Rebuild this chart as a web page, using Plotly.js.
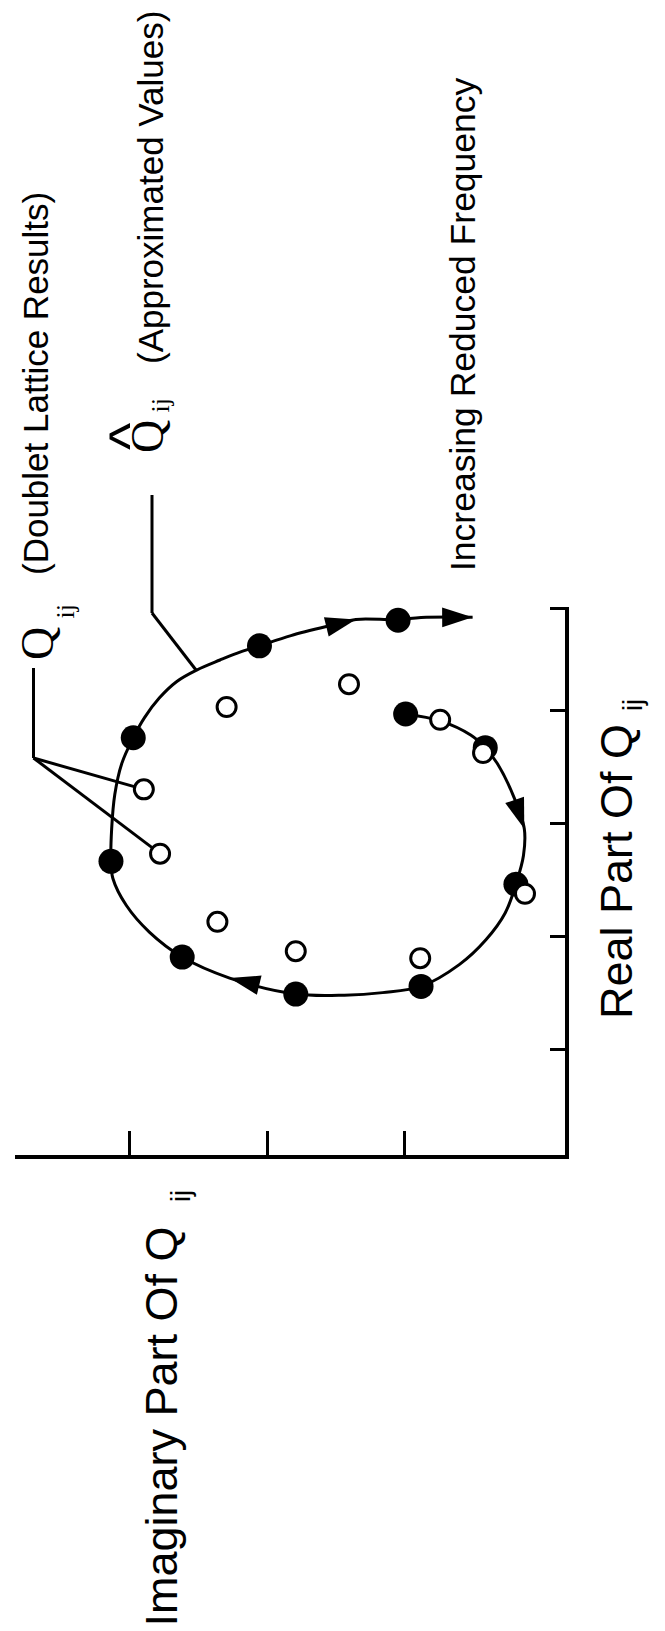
<!DOCTYPE html>
<html><head><meta charset="utf-8">
<script src="https://cdn.plot.ly/plotly-3.0.1.min.js"></script>
<style>html,body{margin:0;padding:0;background:#fff;overflow:hidden;} #chart{width:665px;height:1631px;}</style>
</head><body><div id="chart"></div>
<script>
// Figure is printed rotated: horizontal = Imaginary Part (increasing to the left),
// vertical = Real Part (increasing upward).
const imagTicks = [1, 2, 3, 3.83];
const realTicks = [1, 2, 3, 4, 4.9];

// Doublet Lattice Results Q_ij (open circles), in order of increasing frequency
const dlrImag = [0.744, 0.432, 0.127, 0.889, 1.794, 2.364, 2.781, 2.899, 2.297, 1.407];
const dlrReal = [3.914, 3.620, 2.374, 1.804, 1.866, 2.126, 2.729, 3.298, 4.027, 4.229];

// Approximated values Q^_ij at the same frequencies (filled circles)
const approxImag = [0.995, 0.416, 0.193, 0.883, 1.794, 2.620, 3.138, 2.976, 2.058, 1.050];
const approxReal = [3.965, 3.667, 2.458, 1.554, 1.486, 1.814, 2.661, 3.755, 4.568, 4.795];

// Approximation curve (traced)
const curveImag = [0.995, 0.744, 0.522, 0.416, 0.327, 0.216, 0.132, 0.138, 0.193, 0.271,
                   0.411, 0.605, 0.883, 1.162, 1.440, 1.794, 2.275, 2.620, 2.859, 3.027,
                   3.124, 3.138, 3.133, 3.110, 3.060, 2.976, 2.894, 2.787, 2.659, 2.515,
                   2.345, 2.224, 2.058, 1.829, 1.496, 1.357, 1.050, 0.883, 0.508];
const curveReal = [3.965, 3.904, 3.779, 3.667, 3.525, 3.254, 2.949, 2.712, 2.458, 2.204,
                   1.967, 1.747, 1.554, 1.499, 1.476, 1.486, 1.628, 1.814, 2.035, 2.272,
                   2.509, 2.661, 2.949, 3.254, 3.525, 3.755, 3.933, 4.106, 4.253, 4.354,
                   4.443, 4.502, 4.568, 4.659, 4.761, 4.802, 4.800, 4.819, 4.822];

// Direction arrows along the curve: [from index, tip index]
const arrowFrom = [5, 15, 33, 37];
const arrowTip  = [6, 16, 35, 38];

// ---- layout geometry (pixels) ----
const W = 665, H = 1631;
const M = {l: 15, r: 100, t: 607, b: 476};
const PW = W - M.l - M.r, PH = H - M.t - M.b;
const xRange = [3.836, -0.164];
const yRange = [0.062, 4.912];
const PX = X => (X - M.l) / PW;
const PY = Y => (H - M.b - Y) / PH;
const dataToPx = (im, re) => [
  M.l + PW * (im - xRange[0]) / (xRange[1] - xRange[0]),
  H - M.b - PH * (re - yRange[0]) / (yRange[1] - yRange[0])
];

const traces = [];
traces.push({
  x: curveImag, y: curveReal, type: 'scatter', mode: 'lines',
  line: {color: '#000', width: 3, shape: 'spline', smoothing: 1},
  hoverinfo: 'skip', showlegend: false
});
traces.push({
  x: approxImag, y: approxReal, type: 'scatter', mode: 'markers',
  marker: {symbol: 'circle', size: 25, color: '#000'},
  showlegend: false
});
traces.push({
  x: dlrImag, y: dlrReal, type: 'scatter', mode: 'markers',
  marker: {symbol: 'circle', size: 19, color: '#fff', line: {color: '#000', width: 3}},
  showlegend: false
});
for (let k = 0; k < arrowTip.length; k++) {
  traces.push({
    x: [curveImag[arrowFrom[k]], curveImag[arrowTip[k]]],
    y: [curveReal[arrowFrom[k]], curveReal[arrowTip[k]]],
    type: 'scatter', mode: 'markers',
    marker: {symbol: 'arrow', angleref: 'previous', size: 32, color: '#000', line: {width: 0}},
    showlegend: false
  });
}

// leader lines
const shapes = [];
const seg = (x0, y0, x1, y1) => shapes.push({
  type: 'line', xref: 'paper', yref: 'paper',
  x0: PX(x0), y0: PY(y0), x1: PX(x1), y1: PY(y1),
  line: {color: '#000', width: 3}
});
// Q^ leader -> curve
seg(152, 495, 152, 613);
seg(152, 613, 196, 670);
// Q leader -> two open circles
const jx = 33.5, jy = 758;
seg(jx, 668, jx, jy);
[7, 6].forEach(i => {
  const [cx, cy] = dataToPx(dlrImag[i], dlrReal[i]);
  const dx = cx - jx, dy = cy - jy, d = Math.hypot(dx, dy);
  seg(jx, jy, cx - dx / d * 10, cy - dy / d * 10);
});

const sans = 'Liberation Sans, Arial, sans-serif';
const serif = 'Liberation Serif, Times New Roman, serif';
const ann = (text, left, bottom, size, family) => ({
  text: text, xref: 'paper', yref: 'paper', x: PX(left), y: PY(bottom),
  xanchor: 'left', yanchor: 'bottom', textangle: -90, showarrow: false,
  font: {family: family, size: size, color: '#000'}
});
const annotations = [
  ann('Imaginary Part Of Q', 133, 1629, 45, sans),
  ann('ij', 164, 1204, 27, sans),
  ann('Real Part Of Q', 589, 1021, 45, sans),
  ann('ij', 616, 713, 27, sans),
  ann('(Doublet Lattice Results)', 14, 577, 35, sans),
  ann('(Approximated Values)', 129, 366, 35, sans),
  ann('Increasing Reduced Frequency', 441, 573, 35.5, sans),
  ann('Q', 10, 662, 46, serif),
  ann('ij', 48, 621, 26, serif),
  ann('Q', 120, 455, 46, serif),
  ann('^', 94, 452, 58, sans),
  ann('ij', 143, 415, 26, serif)
];

const layout = {
  width: W, height: H, margin: M,
  paper_bgcolor: '#fff', plot_bgcolor: '#fff',
  showlegend: false, hovermode: false,
  xaxis: {range: xRange, showline: true, linewidth: 4, linecolor: '#000',
          ticks: 'inside', ticklen: 24, tickwidth: 3, tickcolor: '#000',
          tickmode: 'array', tickvals: imagTicks, showticklabels: false,
          showgrid: false, zeroline: false},
  yaxis: {range: yRange, side: 'right', showline: true, linewidth: 4, linecolor: '#000',
          ticks: 'inside', ticklen: 15, tickwidth: 3, tickcolor: '#000',
          tickmode: 'array', tickvals: realTicks, showticklabels: false,
          showgrid: false, zeroline: false},
  shapes: shapes,
  annotations: annotations
};
Plotly.newPlot('chart', traces, layout, {staticPlot: true, displayModeBar: false});
</script>
</body></html>
